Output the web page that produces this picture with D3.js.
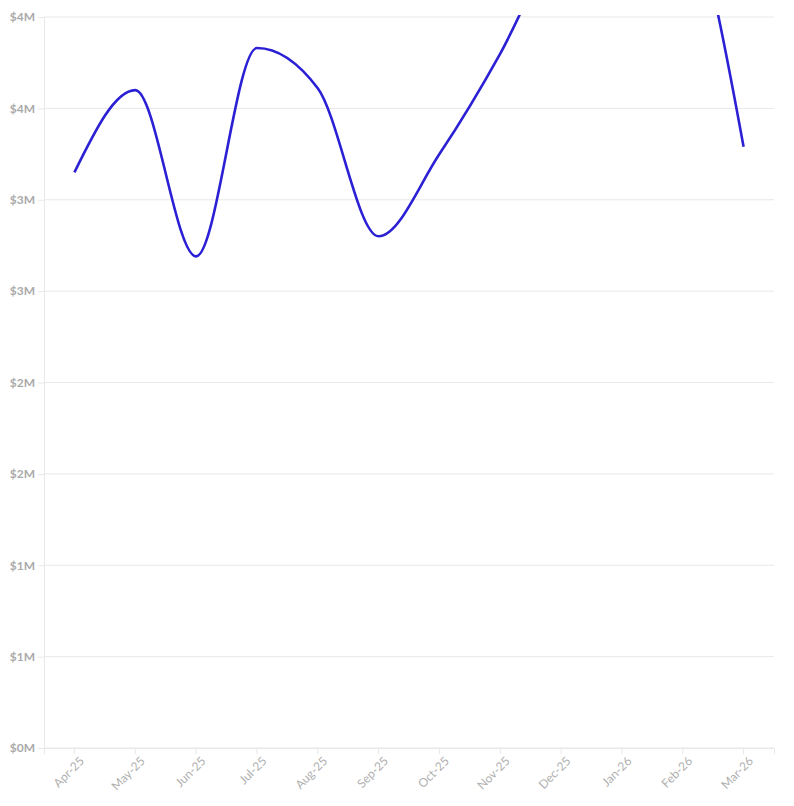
<!DOCTYPE html>
<html><head><meta charset="utf-8">
<script src="https://cdn.jsdelivr.net/npm/d3@7"></script>
<style>body{margin:0;background:#fff}</style>
</head><body>
<svg id="chart" width="794" height="806"></svg>
<script>
const months = ["Apr-25","May-25","Jun-25","Jul-25","Aug-25","Sep-25","Oct-25","Nov-25","Dec-25","Jan-26","Feb-26","Mar-26"];
const values = [3.15e6, 3.6e6, 2.69e6, 3.83e6, 3.61e6, 2.80e6, 3.25e6, 3.80e6, 4.45e6, 4.75e6, 4.6e6, 3.29e6];
const yTicks = [0, 0.5e6, 1e6, 1.5e6, 2e6, 2.5e6, 3e6, 3.5e6, 4e6];

const m = {top: 17, right: 20, bottom: 58, left: 44};
const W = 794, H = 806;
const svg = d3.select("#chart");
const g = svg.append("g").attr("transform", `translate(${m.left},${m.top})`);
const iw = W - m.left - m.right, ih = H - m.top - m.bottom;

const x = d3.scaleBand().domain(months).range([0, iw]).padding(0);
const y = d3.scaleLinear().domain([0, 4e6]).range([ih, 0]);

// grid
g.append("g").selectAll("line").data(yTicks).join("line")
  .attr("x1", 0).attr("x2", iw)
  .attr("y1", d => y(d)).attr("y2", d => y(d))
  .attr("stroke", "#e8e8e8").attr("stroke-width", 1);

// y axis
const yAxis = g.append("g").call(d3.axisLeft(y).tickValues(yTicks).tickSize(6).tickPadding(3)
  .tickFormat(d => "$" + d3.format(".0f")(d / 1e6) + "M"));
yAxis.select(".domain").attr("stroke", "#e8e8e8");
yAxis.selectAll(".tick line").attr("stroke", "#e8e8e8");
yAxis.selectAll("text").attr("fill", "#aaaaaa").style("font-family", "Lato, sans-serif")
  .style("font-weight", "700").style("font-size", "12px");

// x axis
const xAxis = g.append("g").attr("transform", `translate(0,${ih})`)
  .call(d3.axisBottom(x).tickSize(6).tickPadding(4));
xAxis.select(".domain").attr("stroke", "#e8e8e8");
xAxis.selectAll(".tick line").attr("stroke", "#e8e8e8");
xAxis.selectAll("text").attr("fill", "#b0b0b0").style("font-family", "Lato, sans-serif")
  .style("font-size", "12px")
  .attr("text-anchor", "end").attr("dx", "-0.2em").attr("dy", "0.6em")
  .attr("transform", "rotate(-45)");

// clip
svg.append("defs").append("clipPath").attr("id", "clip")
  .append("rect").attr("x", 0).attr("y", -2).attr("width", iw).attr("height", ih + 2);

const line = d3.line()
  .x((d, i) => x(months[i]) + x.bandwidth() / 2)
  .y(d => y(d))
  .curve(d3.curveMonotoneX);

g.append("path").datum(values)
  .attr("clip-path", "url(#clip)")
  .attr("d", line)
  .attr("fill", "none")
  .attr("stroke", "#2b20d4")
  .attr("stroke-width", 2.6);
</script>
</body></html>
